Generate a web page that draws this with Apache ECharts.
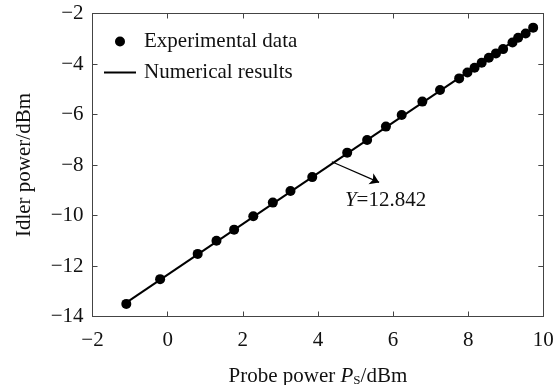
<!DOCTYPE html>
<html><head><meta charset="utf-8">
<script src="https://cdn.jsdelivr.net/npm/echarts@6/dist/echarts.min.js"></script>
<style>html,body{margin:0;padding:0;background:#fff}#c{width:560px;height:385px}</style>
</head><body><div id="c"></div>
<script>
var expX = [-1.1, -0.2, 0.8, 1.3, 1.77, 2.28, 2.8, 3.27, 3.85, 4.78, 5.31, 5.81, 6.23, 6.78, 7.25, 7.76, 7.98, 8.17, 8.36, 8.55, 8.74, 8.93, 9.18, 9.33, 9.53, 9.73];
var expY = [-13.5, -12.52, -11.52, -11.0, -10.56, -10.03, -9.49, -9.03, -8.48, -7.51, -7.01, -6.48, -6.02, -5.49, -5.03, -4.57, -4.34, -4.15, -3.95, -3.75, -3.58, -3.41, -3.15, -2.96, -2.79, -2.56];
var fitX = [-1.1, 9.75];
var fitY = [-13.45, -2.55];
var arrowFrom = [4.37, -7.87];
var arrowTo = [5.63, -8.69];
var annotPos = [5.8, -9.4];
var xTicks = [-2, 0, 2, 4, 6, 8, 10];
var yTicks = [-14, -12, -10, -8, -6, -4, -2];

var font = 'Liberation Serif';
var fs = 21;
var minus = function (v) { return String(v).replace('-', '\u2212'); };
var axisCol = '#444';
function mkAxis(pos, show, isX) {
  return {
    type: 'value', position: pos,
    min: isX ? -2 : -14, max: isX ? 10 : -2, interval: 2,
    axisLine: { show: true, onZero: false, lineStyle: { color: axisCol, width: 1 } },
    axisTick: { show: true, inside: true, length: 5, lineStyle: { color: axisCol } },
    splitLine: { show: false },
    axisLabel: { show: show, color: '#111', fontFamily: font, fontSize: fs, margin: isX ? 13 : 9, formatter: minus }
  };
}
var xa = mkAxis('bottom', true, true);
xa.name = '{n|Probe power }{i|P}{s|S}{n|/dBm}';
xa.nameLocation = 'middle'; xa.nameGap = 49;
xa.nameTextStyle = { rich: {
  n: { fontFamily: font, fontSize: fs, color: '#111' },
  i: { fontFamily: font, fontSize: fs, fontStyle: 'italic', color: '#111' },
  s: { fontFamily: font, fontSize: 13, color: '#111', verticalAlign: 'bottom', padding: [9, 0, 0, 0] } } };
var ya = mkAxis('left', true, false);
ya.name = 'Idler power/dBm'; ya.nameLocation = 'middle'; ya.nameGap = 58;
ya.nameTextStyle = { fontFamily: font, fontSize: fs, color: '#111' };

var chart = echarts.init(document.getElementById('c'), null, { renderer: 'canvas' });
chart.setOption({
  animation: false,
  backgroundColor: '#fff',
  grid: { left: 92.5, right: 16.7, top: 13.5, bottom: 68.5, containLabel: false, outerBoundsMode: 'none' },
  xAxis: [xa, mkAxis('top', false, true)],
  yAxis: [ya, mkAxis('right', false, false)],
  legend: {
    orient: 'vertical', left: 99, top: 26, itemWidth: 32, itemHeight: 10, itemGap: 10,
    textStyle: { fontFamily: font, fontSize: fs, color: '#111', padding: [0, 0, 0, 3] },
    data: [{ name: 'Experimental data', icon: 'circle' },
           { name: 'Numerical results', icon: 'path://M0,0H32V2H0Z' }]
  },
  series: [
    {
      name: 'Numerical results', type: 'line', symbol: 'none',
      data: fitX.map(function (x, i) { return [x, fitY[i]]; }),
      lineStyle: { color: '#000', width: 2 }, itemStyle: { color: '#000' },
      markLine: {
        silent: true, symbol: ['none', 'arrow'], symbolSize: 9,
        lineStyle: { color: '#000', width: 1.2, type: 'solid' }, label: { show: false },
        data: [[{ coord: arrowFrom }, { coord: arrowTo }]]
      },
      markPoint: {
        silent: true, symbol: 'circle', symbolSize: 0,
        data: [{ coord: annotPos }],
        label: { show: true, position: 'inside',
          formatter: '{i|Y}{n|=12.842}',
          rich: { i: { fontFamily: font, fontSize: fs, fontStyle: 'italic', color: '#111' },
                  n: { fontFamily: font, fontSize: fs, color: '#111' } } }
      }
    },
    {
      name: 'Experimental data', type: 'scatter', symbol: 'circle', symbolSize: 10,
      data: expX.map(function (x, i) { return [x, expY[i]]; }),
      itemStyle: { color: '#000', opacity: 1 }
    }
  ]
});
</script></body></html>
